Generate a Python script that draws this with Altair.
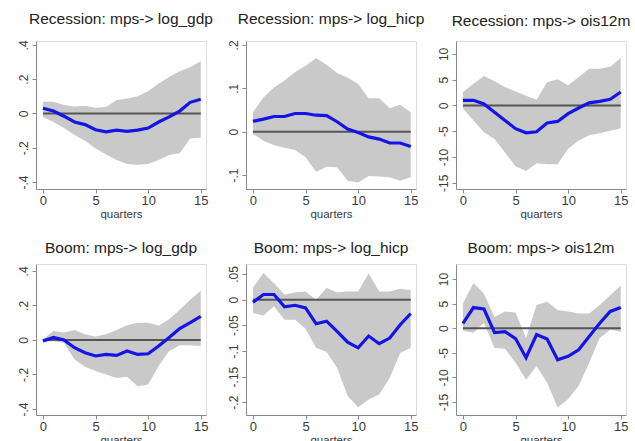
import altair as alt
import pandas as pd

# Horizon (quarters after the monetary policy shock)
quarters = [0, 1, 2, 3, 4, 5, 6, 7, 8, 9, 10, 11, 12, 13, 14, 15]

# Recession regime: point estimate and confidence band
rec_gdp_irf = [0.03, 0.014, -0.016, -0.05, -0.065, -0.095, -0.107, -0.097, -0.105, -0.097, -0.085, -0.05, -0.02, 0.014, 0.065, 0.083]
rec_gdp_hi = [0.068, 0.068, 0.05, 0.04, 0.045, 0.033, 0.037, 0.078, 0.087, 0.1, 0.13, 0.175, 0.213, 0.246, 0.27, 0.305]
rec_gdp_lo = [-0.02, -0.05, -0.085, -0.126, -0.16, -0.204, -0.239, -0.272, -0.295, -0.3, -0.295, -0.272, -0.243, -0.233, -0.146, -0.142]

rec_hicp_irf = [0.024, 0.029, 0.035, 0.035, 0.042, 0.042, 0.038, 0.037, 0.023, 0.006, -0.002, -0.012, -0.017, -0.026, -0.026, -0.034]
rec_hicp_hi = [0.045, 0.079, 0.102, 0.118, 0.137, 0.152, 0.169, 0.154, 0.135, 0.125, 0.11, 0.077, 0.077, 0.054, 0.062, 0.045]
rec_hicp_lo = [-0.005, -0.021, -0.031, -0.037, -0.042, -0.059, -0.092, -0.081, -0.082, -0.113, -0.117, -0.102, -0.103, -0.105, -0.113, -0.105]

rec_ois_irf = [1.0, 1.0, 0.3, -1.3, -2.9, -4.5, -5.3, -5.1, -3.4, -3.1, -1.6, -0.5, 0.5, 0.8, 1.2, 2.6]
rec_ois_hi = [2.6, 4.2, 5.7, 4.7, 3.6, 2.7, 1.9, 1.1, 4.5, 5.1, 3.9, 5.5, 7.1, 7.1, 7.5, 9.2]
rec_ois_lo = [-0.6, -2.9, -5.2, -6.5, -9.1, -11.8, -12.7, -11.2, -11.4, -11.4, -8.4, -6.8, -5.8, -5.4, -4.9, -4.4]

# Boom regime
boom_gdp_irf = [-0.006, 0.014, 0.0, -0.045, -0.074, -0.093, -0.084, -0.09, -0.064, -0.084, -0.08, -0.035, 0.014, 0.066, 0.1, 0.136]
boom_gdp_hi = [0.004, 0.052, 0.043, 0.058, 0.033, 0.02, 0.033, 0.058, 0.085, 0.1, 0.1, 0.082, 0.12, 0.175, 0.233, 0.285]
boom_gdp_lo = [-0.012, -0.006, -0.016, -0.113, -0.155, -0.18, -0.2, -0.22, -0.214, -0.268, -0.258, -0.151, -0.064, -0.031, -0.031, -0.035]

boom_hicp_irf = [-0.005, 0.01, 0.01, -0.014, -0.011, -0.016, -0.047, -0.042, -0.062, -0.083, -0.094, -0.071, -0.086, -0.075, -0.049, -0.027]
boom_hicp_hi = [0.023, 0.052, 0.032, 0.01, 0.014, 0.016, 0.0, 0.023, 0.014, 0.016, 0.016, 0.051, 0.016, 0.016, 0.021, 0.019]
boom_hicp_lo = [-0.026, -0.031, -0.013, -0.039, -0.039, -0.057, -0.094, -0.102, -0.133, -0.188, -0.21, -0.195, -0.185, -0.153, -0.104, -0.094]

boom_ois_irf = [1.0, 4.2, 3.9, -0.9, -0.7, -2.1, -6.0, -1.3, -2.2, -6.4, -5.7, -4.4, -1.7, 1.0, 3.4, 4.2]
boom_ois_hi = [5.0, 9.2, 7.0, 2.3, 3.4, 3.2, -2.0, 4.7, 5.4, 3.7, 3.4, 3.0, 3.0, 4.7, 6.7, 8.7]
boom_ois_lo = [-0.5, -0.9, 1.1, -4.0, -4.2, -7.0, -10.5, -7.7, -11.1, -16.1, -14.4, -11.7, -7.0, -2.0, -0.3, -0.7]

# Panel titles, y-axis ticks and y ranges
titles = [
    "Recession: mps-> log_gdp", "Recession: mps-> log_hicp", "Recession: mps-> ois12m",
    "Boom: mps-> log_gdp", "Boom: mps-> log_hicp", "Boom: mps-> ois12m",
]
y_ticks = [
    [-0.4, -0.2, 0, 0.2, 0.4], [-0.1, 0, 0.1, 0.2], [-15, -10, -5, 0, 5, 10],
    [-0.4, -0.2, 0, 0.2, 0.4], [-0.2, -0.15, -0.1, -0.05, 0, 0.05], [-15, -10, -5, 0, 5, 10],
]
y_ranges = [
    [-0.441, 0.423], [-0.132, 0.209], [-16.2, 12.5],
    [-0.435, 0.44], [-0.225, 0.0695], [-17.64, 13.05],
]
panel_heights = [148, 148, 148, 151, 151, 151]
title_offsets = [0, 0, 0, -4, -4, -4]
series = [
    (rec_gdp_irf, rec_gdp_lo, rec_gdp_hi),
    (rec_hicp_irf, rec_hicp_lo, rec_hicp_hi),
    (rec_ois_irf, rec_ois_lo, rec_ois_hi),
    (boom_gdp_irf, boom_gdp_lo, boom_gdp_hi),
    (boom_hicp_irf, boom_hicp_lo, boom_hicp_hi),
    (boom_ois_irf, boom_ois_lo, boom_ois_hi),
]

FONT = "Liberation Sans"
BLUE = "#1414e6"
BAND = "#c9c9c9"
AXIS_GREY = "#8a8a8a"

# Stata-style numbers: ".4", "-.2", "0", "10"
STATA_LABEL = (
    "datum.value == 0 ? '0' : (datum.value < 0 ? '-' : '') + "
    "replace(toString(abs(datum.value)), '0.', '.')"
)


def panel(i):
    irf, lo, hi = series[i]
    df = pd.DataFrame({"q": quarters, "irf": irf, "lo": lo, "hi": hi, "zero": [0] * len(quarters)})
    xscale = alt.Scale(domain=[-0.66, 15.5], nice=False, zero=False)
    xaxis = alt.Axis(
        values=[0, 5, 10, 15], title="quarters", grid=False,
        labelFont=FONT, labelFontSize=13, labelColor="#3a3a3a", labelPadding=1,
        titleFont=FONT, titleFontSize=11.5, titleFontWeight="normal", titleColor="#3a3a3a",
        titlePadding=1, tickSize=4, tickColor=AXIS_GREY, domainColor=AXIS_GREY,
        labelFlush=False, labelOverlap=False,
    )
    yscale = alt.Scale(domain=y_ranges[i], nice=False, zero=False)
    yaxis = alt.Axis(
        values=y_ticks[i], title=None, grid=False, labelExpr=STATA_LABEL,
        labelAngle=270, labelAlign="center", labelBaseline="bottom",
        labelFont=FONT, labelFontSize=12, labelColor="#3a3a3a", labelPadding=2,
        tickSize=4, tickColor=AXIS_GREY, domainColor=AXIS_GREY,
        labelFlush=False, labelOverlap=False,
    )

    def xq():
        return alt.X("q:Q", scale=xscale, axis=xaxis)

    def yf(field):
        return alt.Y(f"{field}:Q", scale=yscale, axis=yaxis)

    base = alt.Chart(df)
    band = base.mark_area(color=BAND, opacity=1).encode(x=xq(), y=yf("lo"), y2="hi:Q")
    zero = base.mark_line(color="#555555", strokeWidth=2).encode(x=xq(), y=yf("zero"))
    line = base.mark_line(color=BLUE, strokeWidth=3.2).encode(x=xq(), y=yf("irf"))
    return alt.layer(band, zero, line).properties(
        width=170,
        height=panel_heights[i],
        title=alt.TitleParams(
            titles[i], font=FONT, fontSize=15.5, fontWeight="normal", color="#222",
            anchor="middle", baseline="alphabetic", offset=title_offsets[i],
        ),
    )


chart = (
    alt.concat(
        *[panel(i) for i in range(6)],
        columns=3,
        spacing={"row": 75, "column": 40},
        bounds="flush",
    )
    .properties(padding={"left": 16, "top": 11, "right": 0, "bottom": 0})
    .configure_view(stroke=None)
    .configure(background="white")
)

chart.save("out.html", embed_options={"renderer": "svg", "actions": False})
